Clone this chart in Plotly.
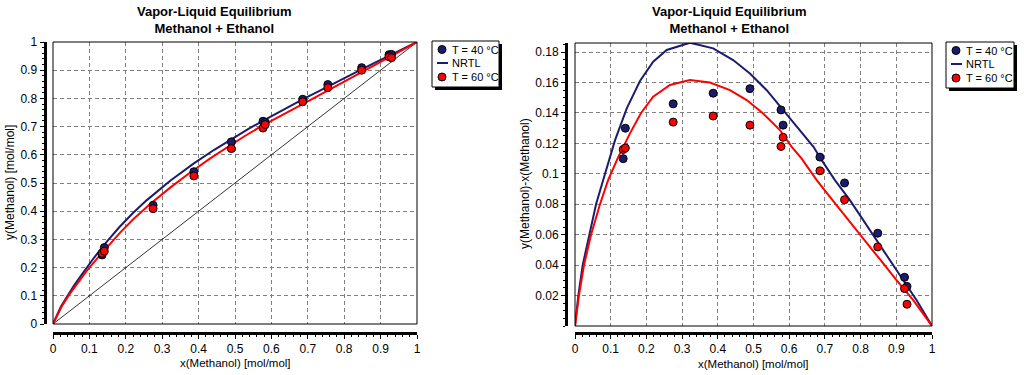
import plotly.graph_objects as go

# ---------------- data ----------------
x_exp = [0.135, 0.141, 0.275, 0.387, 0.490, 0.577, 0.583, 0.686, 0.755, 0.848, 0.923, 0.930]
y_exp_40 = [0.245, 0.271, 0.421, 0.540, 0.646, 0.719, 0.715, 0.797, 0.849, 0.909, 0.955, 0.956]
y_exp_60 = [0.251, 0.258, 0.409, 0.525, 0.622, 0.695, 0.707, 0.788, 0.838, 0.900, 0.9476, 0.9443]

nrtl_40_x = [0, 0.0093, 0.0215, 0.040, 0.059, 0.079, 0.112, 0.145, 0.182, 0.219, 0.257, 0.322,
             0.387, 0.443, 0.490, 0.537, 0.579, 0.621, 0.668, 0.691, 0.728, 0.770, 0.808, 0.845,
             0.882, 0.920, 0.957, 1.0]
nrtl_40_dev = [0, 0.020, 0.040, 0.060, 0.080, 0.096, 0.122, 0.143, 0.161, 0.1737, 0.1814, 0.1862,
               0.1825, 0.1748, 0.166, 0.155, 0.143, 0.131, 0.1178, 0.109, 0.0959, 0.0827, 0.0695, 0.0564,
               0.0432, 0.0301, 0.0169, 0]
nrtl_60_x = [0, 0.011, 0.0252, 0.045, 0.070, 0.093, 0.121, 0.154, 0.185, 0.219, 0.266, 0.322,
             0.378, 0.434, 0.481, 0.527, 0.574, 0.607, 0.635, 0.677, 0.714, 0.752, 0.789, 0.826,
             0.864, 0.901, 0.948, 1.0]
nrtl_60_dev = [0, 0.020, 0.040, 0.060, 0.080, 0.096, 0.111, 0.1266, 0.140, 0.1507, 0.1584, 0.1616,
               0.160, 0.155, 0.1485, 0.1397, 0.1288, 0.1178, 0.110, 0.0959, 0.0849, 0.074, 0.063, 0.052,
               0.041, 0.030, 0.0169, 0]

diag = [0, 1]

ticks_01 = [0, 0.1, 0.2, 0.3, 0.4, 0.5, 0.6, 0.7, 0.8, 0.9, 1]
tick_labels_01 = ["0", "0.1", "0.2", "0.3", "0.4", "0.5", "0.6", "0.7", "0.8", "0.9", "1"]
ticks_dev = [0.02, 0.04, 0.06, 0.08, 0.10, 0.12, 0.14, 0.16, 0.18]
tick_labels_dev = ["0.02", "0.04", "0.06", "0.08", "0.1", "0.12", "0.14", "0.16", "0.18"]

legend_labels = ["T = 40 °C", "NRTL", "T = 60 °C"]

# derived
nrtl_40_y = [a + b for a, b in zip(nrtl_40_x, nrtl_40_dev)]
nrtl_60_y = [a + b for a, b in zip(nrtl_60_x, nrtl_60_dev)]
dev_exp_40 = [b - a for a, b in zip(x_exp, y_exp_40)]
dev_exp_60 = [b - a for a, b in zip(x_exp, y_exp_60)]

NAVY = "#1c1c6e"
RED = "#ff0000"
FONT = "Liberation Sans, Arial, sans-serif"
W, H = 1024, 375


def px(v):
    return v / W


def py(v):
    return 1 - v / H


fig = go.Figure()

marker40 = dict(color=NAVY, size=8, line=dict(color="black", width=1))
marker60 = dict(color=RED, size=8, line=dict(color="black", width=1))

# ---- left chart ----
fig.add_trace(go.Scatter(x=diag, y=diag, mode="lines", line=dict(color="black", width=0.8),
                         showlegend=False, hoverinfo="skip", xaxis="x", yaxis="y"))
fig.add_trace(go.Scatter(x=nrtl_40_x, y=nrtl_40_y, mode="lines", line=dict(color=NAVY, width=2),
                         name="NRTL", showlegend=False, xaxis="x", yaxis="y"))
fig.add_trace(go.Scatter(x=nrtl_60_x, y=nrtl_60_y, mode="lines", line=dict(color=RED, width=2),
                         name="NRTL", showlegend=False, xaxis="x", yaxis="y"))
fig.add_trace(go.Scatter(x=x_exp, y=y_exp_40, mode="markers", marker=marker40, name="T = 40 °C",
                         showlegend=False, xaxis="x", yaxis="y"))
fig.add_trace(go.Scatter(x=x_exp, y=y_exp_60, mode="markers", marker=marker60, name="T = 60 °C",
                         showlegend=False, xaxis="x", yaxis="y"))

# ---- right chart ----
fig.add_trace(go.Scatter(x=nrtl_40_x, y=nrtl_40_dev, mode="lines", line=dict(color=NAVY, width=2),
                         name="NRTL", showlegend=False, xaxis="x2", yaxis="y2"))
fig.add_trace(go.Scatter(x=nrtl_60_x, y=nrtl_60_dev, mode="lines", line=dict(color=RED, width=2),
                         name="NRTL", showlegend=False, xaxis="x2", yaxis="y2"))
fig.add_trace(go.Scatter(x=x_exp, y=dev_exp_40, mode="markers", marker=marker40, name="T = 40 °C",
                         showlegend=False, xaxis="x2", yaxis="y2"))
fig.add_trace(go.Scatter(x=x_exp, y=dev_exp_60, mode="markers", marker=marker60, name="T = 60 °C",
                         showlegend=False, xaxis="x2", yaxis="y2"))

axis_common = dict(
    showline=True, linecolor="black", linewidth=3,
    ticks="outside", ticklen=4, tickcolor="black", tickwidth=1,
    showgrid=True, gridcolor="#808080", gridwidth=1, griddash="4px,3px",
    zeroline=False, automargin=False, anchor="free",
    tickfont=dict(family=FONT, size=12, color="black"),
)
minor01 = dict(dtick=0.02, tick0=0, ticks="outside", ticklen=2, tickcolor="black", showgrid=False)

L_X0, L_X1, L_Y0, L_Y1 = 53, 417, 324, 42
R_X0, R_X1, R_Y0, R_Y1 = 575, 932, 326, 43

fig.update_layout(
    width=W, height=H,
    margin=dict(l=0, r=0, t=0, b=0),
    paper_bgcolor="white", plot_bgcolor="white",
    font=dict(family=FONT, size=12, color="black"),
    showlegend=False,
    xaxis=dict(axis_common, domain=[px(L_X0), px(L_X1)], range=[0, 1], tickvals=ticks_01,
               ticktext=tick_labels_01, position=py(333), minor=minor01),
    yaxis=dict(axis_common, domain=[py(L_Y0), py(L_Y1)], range=[0, 1], tickvals=ticks_01,
               ticktext=tick_labels_01, position=px(44.5), minor=minor01),
    xaxis2=dict(axis_common, domain=[px(R_X0), px(R_X1)], range=[0, 1], tickvals=ticks_01,
                ticktext=tick_labels_01, position=py(333), minor=minor01),
    yaxis2=dict(axis_common, domain=[py(R_Y0), py(R_Y1)], range=[0, 0.186], tickvals=ticks_dev,
                ticktext=tick_labels_dev, position=px(566),
                minor=dict(dtick=0.005, tick0=0, ticks="outside", ticklen=2, tickcolor="black",
                           showgrid=False)),
)

# plot frames
for xr, yr in (("x domain", "y domain"), ("x2 domain", "y2 domain")):
    fig.add_shape(type="rect", xref=xr, yref=yr, x0=0, x1=1, y0=0, y1=1,
                  line=dict(color="black", width=1), layer="above")

# titles
title_txt = "<b>Vapor-Liquid Equilibrium</b><br><b>Methanol + Ethanol</b>"
for cx in (214, 729):
    fig.add_annotation(text=title_txt, xref="paper", yref="paper", x=px(cx), y=py(2),
                       xanchor="center", yanchor="top", showarrow=False,
                       font=dict(family=FONT, size=13, color="black"))

# axis titles
fig.add_annotation(text="x(Methanol) [mol/mol]", xref="paper", yref="paper", x=px(235), y=py(363),
                   xanchor="center", yanchor="middle", showarrow=False, font=dict(family=FONT, size=11.5))
fig.add_annotation(text="x(Methanol) [mol/mol]", xref="paper", yref="paper", x=px(753), y=py(364),
                   xanchor="center", yanchor="middle", showarrow=False, font=dict(family=FONT, size=11.5))
fig.add_annotation(text="y(Methanol) [mol/mol]", xref="paper", yref="paper", x=px(10), y=py(183),
                   xanchor="center", yanchor="middle", textangle=-90, showarrow=False,
                   font=dict(family=FONT, size=12))
fig.add_annotation(text="y(Methanol)-x(Methanol)", xref="paper", yref="paper", x=px(525), y=py(184),
                   xanchor="center", yanchor="middle", textangle=-90, showarrow=False,
                   font=dict(family=FONT, size=12))


# legends (drawn as boxed keys)
def add_legend(x0, y0, w, h):
    # shadow
    fig.add_shape(type="rect", xref="paper", yref="paper", x0=px(x0 + 3), x1=px(x0 + w + 3),
                  y0=py(y0 + h + 3), y1=py(y0 + 3), line=dict(width=0), fillcolor="black")
    fig.add_shape(type="rect", xref="paper", yref="paper", x0=px(x0), x1=px(x0 + w),
                  y0=py(y0 + h), y1=py(y0), line=dict(color="black", width=1), fillcolor="white")
    kx = x0 + 10
    rows = [y0 + 8.5, y0 + 22, y0 + 36]
    r = 4
    fig.add_shape(type="circle", xref="paper", yref="paper", x0=px(kx - r), x1=px(kx + r),
                  y0=py(rows[0] + r), y1=py(rows[0] - r), fillcolor=NAVY, line=dict(color="black", width=1))
    fig.add_shape(type="line", xref="paper", yref="paper", x0=px(kx - 5), x1=px(kx + 6),
                  y0=py(rows[1]), y1=py(rows[1]), line=dict(color=NAVY, width=2))
    fig.add_shape(type="circle", xref="paper", yref="paper", x0=px(kx - r), x1=px(kx + r),
                  y0=py(rows[2] + r), y1=py(rows[2] - r), fillcolor=RED, line=dict(color="black", width=1))
    for lab, ry in zip(legend_labels, rows):
        fig.add_annotation(text=lab, xref="paper", yref="paper", x=px(x0 + 18), y=py(ry),
                           xanchor="left", yanchor="middle", showarrow=False,
                           font=dict(family=FONT, size=11, color="black"))


add_legend(432, 41, 67, 46)
add_legend(946, 42, 68, 46)

fig.write_html("out.html",
               config={"displayModeBar": False},
               post_script="document.body.style.margin='0';document.body.style.overflow='hidden';")
